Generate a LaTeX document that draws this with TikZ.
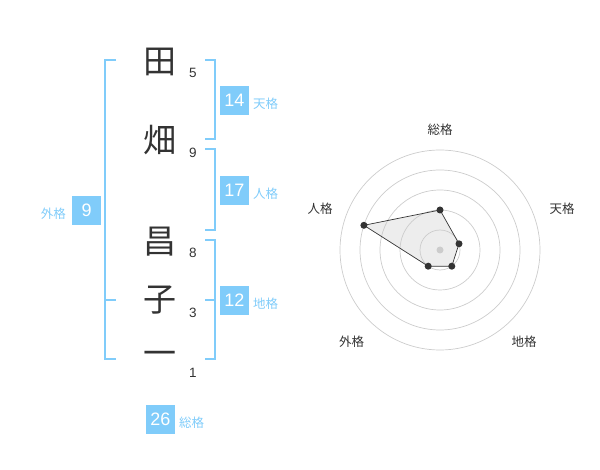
\documentclass[tikz,border=0pt]{standalone}
\usepackage{fontspec}
\setmainfont{Liberation Sans}
\newfontfamily\jp{Noto Sans CJK JP}
\definecolor{sky}{HTML}{80CCFA}
\definecolor{ink}{HTML}{333333}
\definecolor{ring}{HTML}{CCCCCC}
\begin{document}
\begin{tikzpicture}[x=1pt,y=-1pt,
  kanji/.style={font=\jp\fontsize{33}{33}\selectfont,text=ink,inner sep=0pt},
  stroke/.style={font=\fontsize{13.5}{13.5}\selectfont,text=ink,inner sep=0pt},
  valbox/.style={fill=sky,text=white,minimum width=28.7pt,minimum height=28.7pt,inner sep=0pt,font=\fontsize{18}{18}\selectfont},
  kaku/.style={font=\jp\fontsize{12.5}{12.5}\selectfont,text=sky,inner sep=0pt,anchor=west},
  rlab/.style={font=\jp\fontsize{12.5}{12.5}\selectfont,text=ink,inner sep=0pt},
  brk/.style={draw=sky,line width=2pt},
  dot/.style={circle,fill=ink,inner sep=0pt,minimum size=7pt}]
\useasboundingbox (0,0) rectangle (600,470);
% kanji
\node[kanji] (k1) at (160,62) {田};
\node[kanji] (k2) at (160,140) {畑};
\node[kanji] (k3) at (160,242) {昌};
\node[kanji] (k4) at (160,300) {子};
\node[kanji] (k5) at (160,358) {一};
% stroke counts
\node[stroke] (s1) at (193,73) {5};
\node[stroke] (s2) at (193,153) {9};
\node[stroke] (s3) at (193,253) {8};
\node[stroke] (s4) at (193,313) {3};
\node[stroke] (s5) at (193,373) {1};
% brackets
\draw[brk] (205,60) -- (215,60) -- (215,139.3) -- (205,139.3);
\draw[brk] (205,149.3) -- (215,149.3) -- (215,230) -- (205,230);
\draw[brk] (205,240) -- (215,240) -- (215,359.3) -- (205,359.3);
\draw[brk] (205,300) -- (215,300);
\draw[brk] (116,60) -- (105,60) -- (105,359.3) -- (116,359.3);
\draw[brk] (105,300) -- (116,300);
% value boxes
\node[valbox] (b1) at (234.3,100.3) {14};
\node[kaku] (l1) at (253,104) {天格};
\node[valbox] (b2) at (234.3,190.3) {17};
\node[kaku] (l2) at (253,193.5) {人格};
\node[valbox] (b3) at (234.3,300.3) {12};
\node[kaku] (l3) at (253,304) {地格};
\node[valbox] (b4) at (86.7,210.3) {9};
\node[kaku,anchor=east] (l4) at (66,214) {外格};
\node[valbox] (b5) at (160.3,419.3) {26};
\node[kaku] (l5) at (179,422.5) {総格};
% radar
\coordinate (pso) at (440,210);
\coordinate (pten) at (459,243.8);
\coordinate (pchi) at (451.8,266.2);
\coordinate (pgai) at (428.2,266.2);
\coordinate (pjin) at (363.9,225.3);
\fill[black!7] (pso) -- (pten) -- (pchi) -- (pgai) -- (pjin) -- cycle;
\foreach \r in {20,40,60,80,100} \draw[ring,line width=0.7pt] (440,250) circle[radius=\r];
\draw[ink,line width=0.7pt] (pso) -- (pten) -- (pchi) -- (pgai) -- (pjin) -- cycle;
\node[circle,fill=ring,inner sep=0pt,minimum size=7pt] (ctr) at (440,250) {};
\foreach \p in {pso,pten,pchi,pgai,pjin} \node[dot] (d\p) at (\p) {};
\node[rlab] (rso) at (440,130) {総格};
\node[rlab] (rten) at (562,208.3) {天格};
\node[rlab] (rchi) at (524,341.7) {地格};
\node[rlab] (rgai) at (351.7,341.7) {外格};
\node[rlab] (rjin) at (320,208.3) {人格};
\end{tikzpicture}
\end{document}
